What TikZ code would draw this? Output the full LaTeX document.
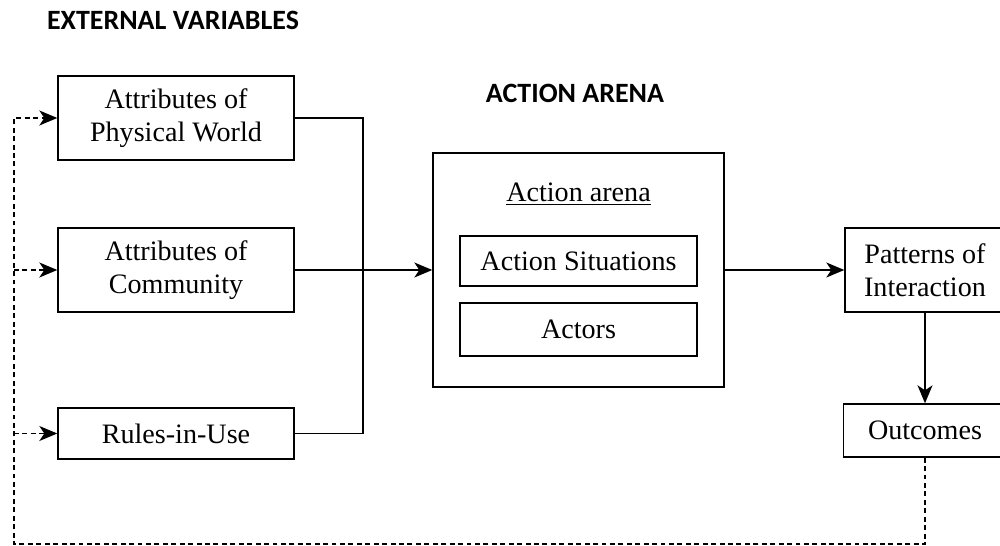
\documentclass[tikz,border=0pt]{standalone}
\usepackage{fontspec}
\setmainfont{Liberation Serif}
\newfontfamily\headfont{Carlito}
\usetikzlibrary{positioning,arrows.meta}

\begin{document}
\begin{tikzpicture}[box/.style={draw=black,line width=0.8pt,align=center,inner sep=0pt,font=\fontsize{16}{18.5}\selectfont},
  head/.style={font=\headfont\bfseries\fontsize{15.9}{18}\selectfont},
  tip/.style={-{Stealth[length=3.6mm,width=3mm,inset=1mm]}},
  link/.style={line width=0.8pt,tip},
  loop/.style={line width=0.8pt,dash pattern=on 2.8pt off 2pt}]

\useasboundingbox (0,0) rectangle (200mm,-109.2mm);

\node[head] (ext)      at (34.6mm,-4mm)   {EXTERNAL VARIABLES};
\node[head] (arenahd)  at (115mm,-18.6mm) {ACTION ARENA};

\node[box,minimum width=47.2mm,minimum height=16.8mm] (phys)  at (35.2mm,-23.6mm)  {Attributes of\\Physical World};
\node[box,minimum width=47.2mm,minimum height=16.8mm] (comm)  [on grid,below=30.4mm of phys]  {Attributes of\\Community};
\node[box,minimum width=47.2mm,minimum height=10.2mm] (rules) [on grid,below=32.7mm of comm]  {Rules-in-Use};

\node[box,minimum width=58.2mm,minimum height=46.8mm] (arena) [on grid,right=80.5mm of comm] {};
\node[box,draw=none]                                  (title) [on grid,above=15.2mm of arena] {\underline{Action arena}};
\node[box,minimum width=47.4mm,minimum height=10mm]   (sit)   [on grid,above=1.8mm of arena]  {Action Situations};
\node[box,minimum width=47.4mm,minimum height=10.6mm] (actors)[on grid,below=11.9mm of arena] {Actors};

\node[box,minimum width=32mm,minimum height=16.8mm]   (patt)  [on grid,right=69.3mm of arena] {Patterns of\\Interaction};
\node[box,minimum width=32.6mm,minimum height=10.6mm] (outc)  [on grid,below=32.1mm of patt]  {Outcomes};

\coordinate (bus)  at (72.6mm,0);
\coordinate (back) at (2.8mm,-108.8mm);

% external variables into the arena
\draw[line width=0.8pt] (phys.east) -- (phys.east -| bus) -- (rules.east -| bus) -- (rules.east);
\draw[link] (comm.east) -- (arena.west);

% arena to outcomes
\draw[link] (arena.east) -- (patt.west);
\draw[link] (patt.south -| outc) -- (outc.north);

% feedback
\draw[loop,tip] (outc.south) |- (back) |- (phys.west);
\draw[loop,tip] (back |- comm.west) -- (comm.west);
\draw[loop,tip] (back |- rules.west) -- (rules.west);

\end{tikzpicture}
\end{document}
